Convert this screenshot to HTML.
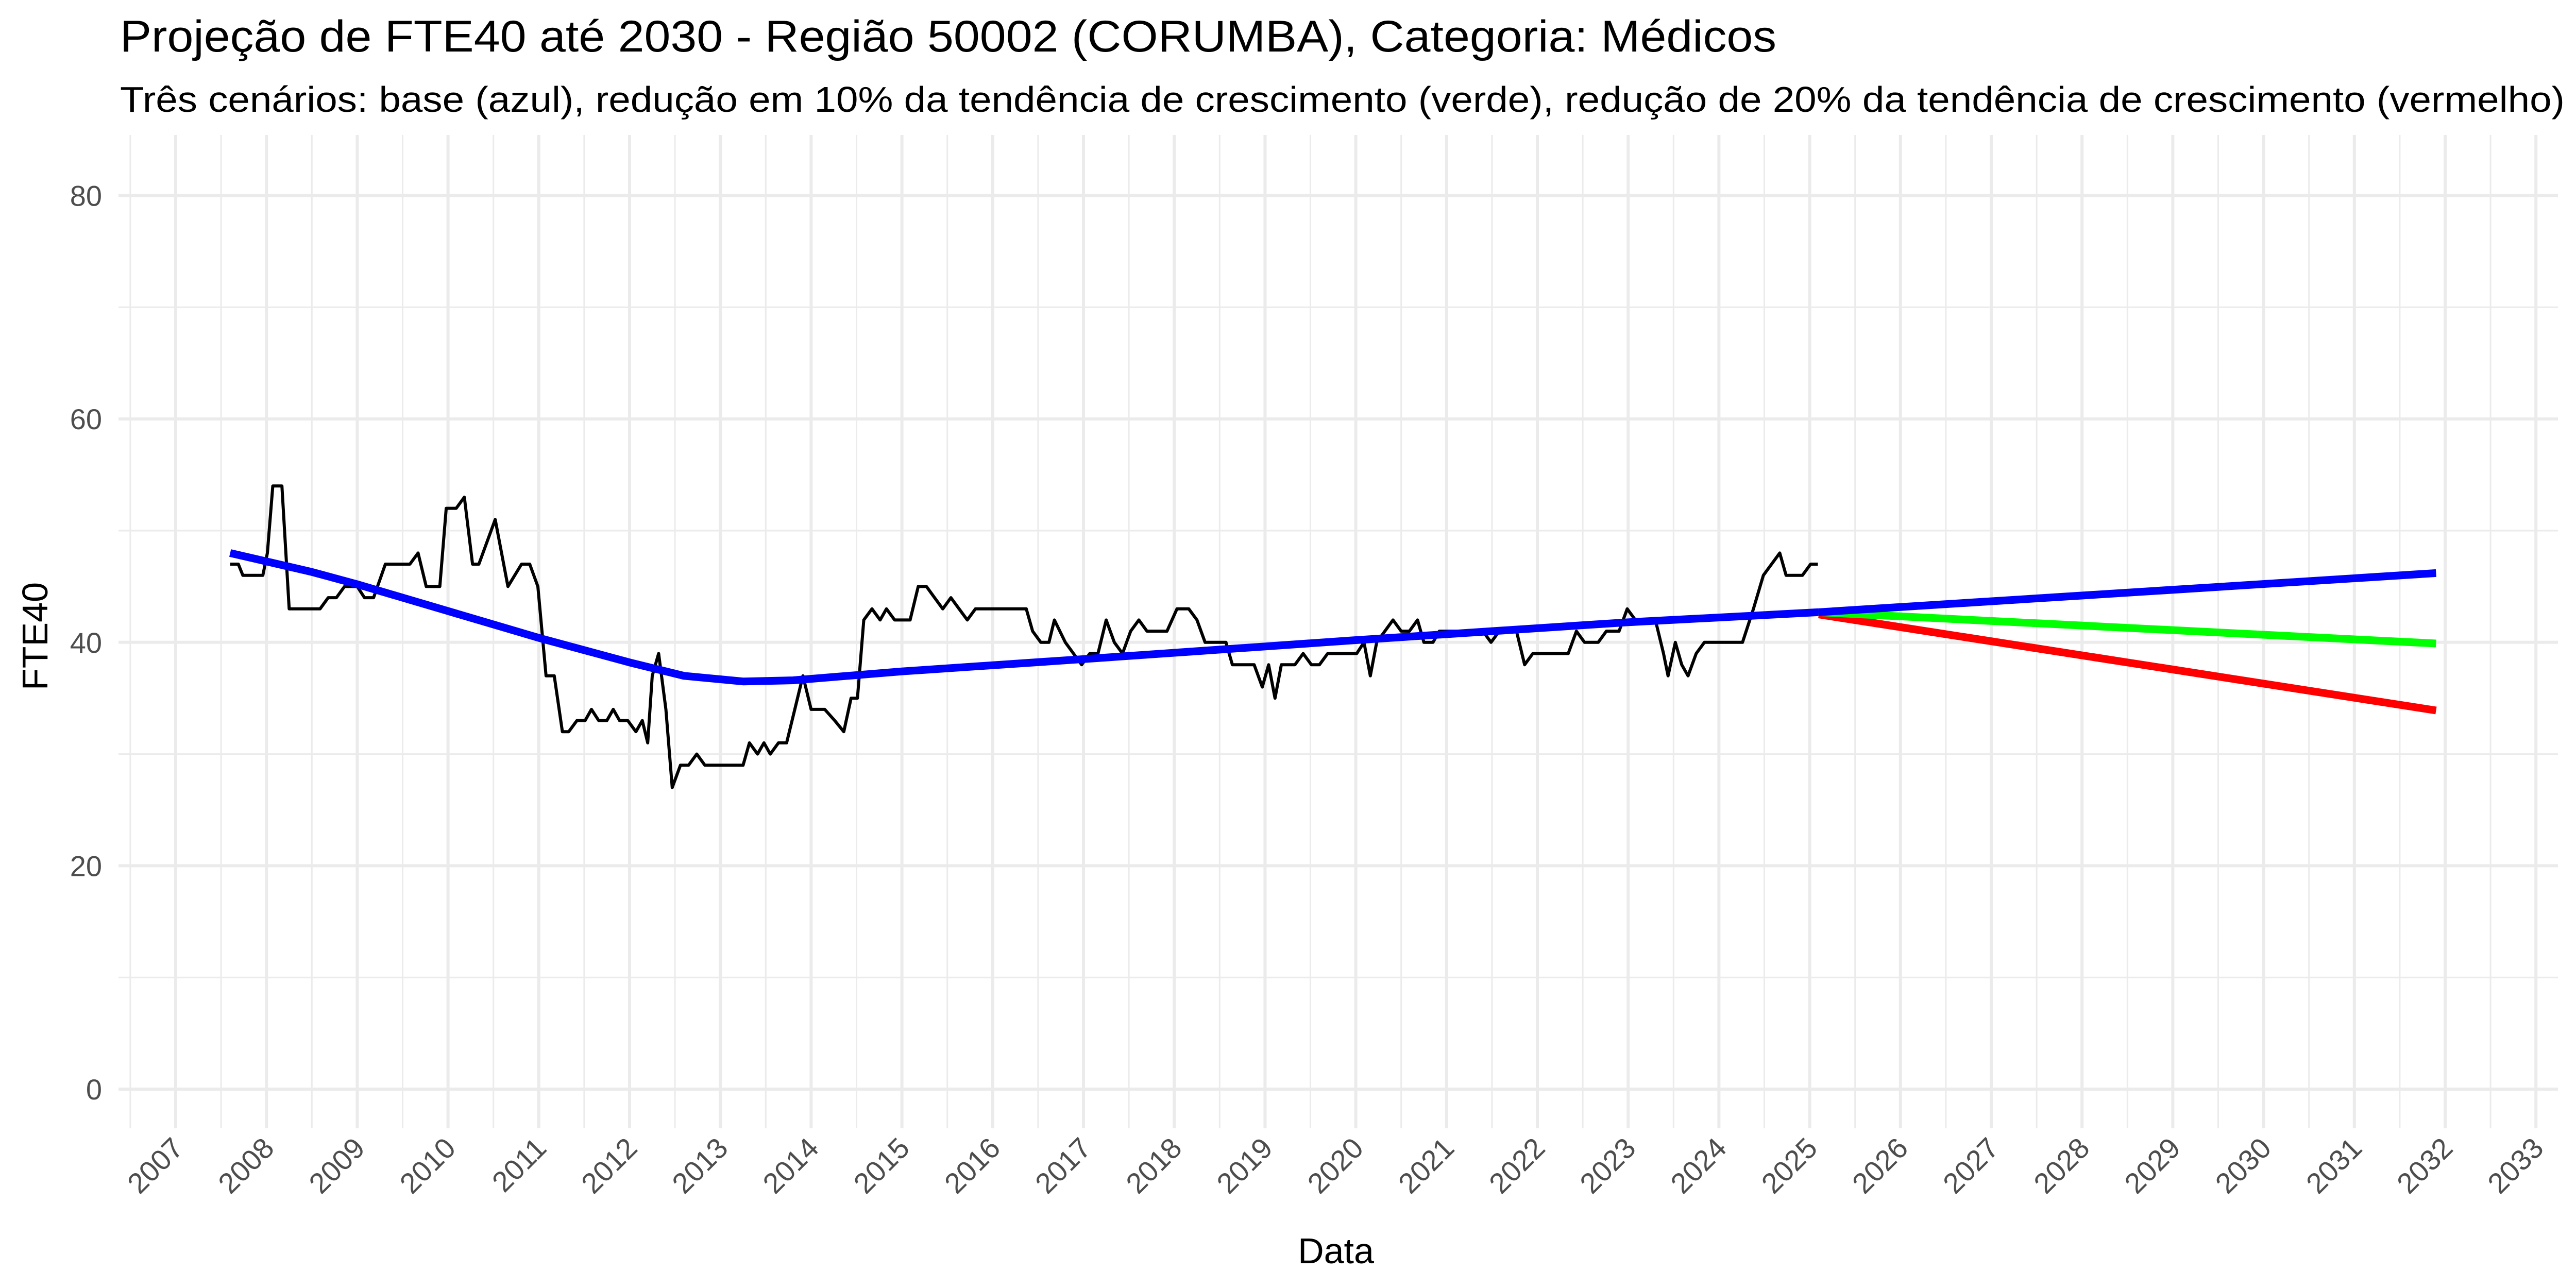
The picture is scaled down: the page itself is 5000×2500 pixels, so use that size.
<!DOCTYPE html>
<html><head><meta charset="utf-8"><style>
html,body{margin:0;padding:0;background:#fff;}
svg{display:block;font-family:"Liberation Sans",Arial,sans-serif;}
</style></head><body>
<svg id="chart" width="5000" height="2500" viewBox="0 0 5000 2500" xmlns="http://www.w3.org/2000/svg">
<rect width="5000" height="2500" fill="#fff"/>
<text x="233" y="100" font-size="86" fill="#000" textLength="3215" lengthAdjust="spacingAndGlyphs">Projeção de FTE40 até 2030 - Região 50002 (CORUMBA), Categoria: Médicos</text>
<text x="233" y="217" font-size="70" fill="#000" textLength="4745" lengthAdjust="spacingAndGlyphs">Três cenários: base (azul), redução em 10% da tendência de crescimento (verde), redução de 20% da tendência de crescimento (vermelho)</text>
<g id="grid"></g>
<g id="ticks"></g>
<g id="series"></g>
<text x="2593" y="2452" font-size="70" text-anchor="middle" fill="#000">Data</text>
<text x="0" y="0" font-size="70" text-anchor="middle" fill="#000" transform="translate(92,1235) rotate(-90)">FTE40</text>
</svg>
<script>
// ---- data ----
const obsDates = [2007.60,2007.69,2007.74,2007.96,2008.01,2008.07,2008.17,2008.25,2008.59,2008.68,2008.77,2008.86,2009.00,2009.08,2009.18,2009.31,2009.58,2009.67,2009.76,2009.91,2009.98,2010.09,2010.18,2010.27,2010.34,2010.52,2010.66,2010.81,2010.90,2010.99,2011.08,2011.17,2011.26,2011.33,2011.42,2011.51,2011.58,2011.66,2011.75,2011.82,2011.89,2011.98,2012.07,2012.14,2012.20,2012.25,2012.32,2012.40,2012.47,2012.56,2012.65,2012.74,2012.83,2013.25,2013.32,2013.41,2013.48,2013.55,2013.64,2013.73,2013.82,2013.91,2014.00,2014.15,2014.26,2014.36,2014.44,2014.51,2014.58,2014.67,2014.76,2014.83,2014.92,2015.09,2015.18,2015.27,2015.36,2015.45,2015.54,2015.63,2015.72,2015.81,2016.37,2016.44,2016.53,2016.62,2016.68,2016.80,2016.89,2016.98,2017.07,2017.16,2017.25,2017.34,2017.43,2017.52,2017.61,2017.70,2017.92,2018.03,2018.16,2018.25,2018.34,2018.57,2018.64,2018.88,2018.97,2019.04,2019.11,2019.18,2019.33,2019.42,2019.51,2019.60,2019.69,2020.01,2020.09,2020.16,2020.23,2020.32,2020.41,2020.50,2020.59,2020.68,2020.75,2020.85,2020.92,2021.40,2021.49,2021.58,2021.77,2021.86,2021.95,2022.34,2022.43,2022.52,2022.67,2022.76,2022.90,2022.99,2023.08,2023.30,2023.39,2023.44,2023.52,2023.59,2023.66,2023.75,2023.84,2024.26,2024.38,2024.49,2024.58,2024.67,2024.74,2024.92,2025.01,2025.09];
const obsValues = [47,47,46,46,48,54,54,43,43,44,44,45,45,44,44,47,47,48,45,45,52,52,53,47,47,51,45,47,47,45,37,37,32,32,33,33,34,33,33,34,33,33,32,33,31,37,39,34,27,29,29,30,29,29,31,30,31,30,31,31,34,37,34,34,33,32,35,35,42,43,42,43,42,42,45,45,44,43,44,43,42,43,43,41,40,40,42,40,39,38,39,39,42,40,39,41,42,41,41,43,43,42,40,40,38,38,36,38,35,38,38,39,38,38,39,39,40,37,40,41,42,41,41,42,40,40,41,41,40,41,41,38,39,39,41,40,40,41,41,43,42,42,39,37,40,38,37,39,40,40,43,46,47,48,46,46,47,47];
const trendDates = [2007.6,2008.5,2009.0,2010.0,2011.0,2012.0,2012.6,2013.25,2013.8,2015.0,2017.0,2020.0,2023.0,2025.1];
const trendValues = [48.0,46.3,45.2,42.8,40.4,38.2,37.0,36.5,36.6,37.4,38.5,40.2,41.8,42.7];
const projDates = [2025.1,2031.9];
const projBase = [42.7,46.2];
const projGreen = [42.7,39.9];
const projRed = [42.5,33.9];
const yTicks = [0,20,40,60,80];
const yMinor = [10,30,50,70];
const xTickYears = [2007,2008,2009,2010,2011,2012,2013,2014,2015,2016,2017,2018,2019,2020,2021,2022,2023,2024,2025,2026,2027,2028,2029,2030,2031,2032,2033];

// ---- scales ----
const X0 = 341, PXY = 176.2, Y0 = 2114, PXV = 21.68;
const PL = 230, PR = 4965, PT = 262, PB = 2190;
function xs(t){ return X0 + (t - 2007) * PXY; }
function ys(v){ return Y0 - v * PXV; }
const NS = "http://www.w3.org/2000/svg";
function mk(tag, attrs, parent){ const e = document.createElementNS(NS, tag); for (const k in attrs) e.setAttribute(k, attrs[k]); parent.appendChild(e); return e; }

const grid = document.getElementById('grid');
const ticks = document.getElementById('ticks');
const series = document.getElementById('series');

yMinor.forEach(v => {
  const l = mk('line', {x1:PL, x2:PR, y1:ys(v), y2:ys(v), stroke:'#ebebeb', 'stroke-width':3}, grid);
  
  
});
xTickYears.forEach(y => {
  if (y < 2033) {
    const l = mk('line', {x1:xs(y+0.5), x2:xs(y+0.5), y1:PT, y2:PB, stroke:'#ebebeb', 'stroke-width':3}, grid);
    
    
  }
});
const lm = mk('line', {x1:xs(2006.5), x2:xs(2006.5), y1:PT, y2:PB, stroke:'#ebebeb', 'stroke-width':3}, grid);


yTicks.forEach(v => {
  const l = mk('line', {x1:PL, x2:PR, y1:ys(v), y2:ys(v), stroke:'#ebebeb', 'stroke-width':6}, grid);
  
  
  const t = mk('text', {x:198, y:ys(v)+20, 'font-size':56, fill:'#4d4d4d', 'text-anchor':'end'}, ticks);
  t.textContent = v;
  
  
});
xTickYears.forEach(y => {
  const l = mk('line', {x1:xs(y), x2:xs(y), y1:PT, y2:PB, stroke:'#ebebeb', 'stroke-width':6}, grid);
  
  
  const t = mk('text', {x:0, y:0, 'font-size':56, fill:'#4d4d4d', 'text-anchor':'end', transform:'translate(' + (xs(y)+18) + ',2232) rotate(-45)'}, ticks);
  t.textContent = y;
  
  
});

function pts(d, v){ return d.map((t,i) => xs(t).toFixed(1) + ',' + ys(v[i]).toFixed(1)).join(' '); }
const obs = mk('polyline', {points:pts(obsDates, obsValues), fill:'none', stroke:'#000', 'stroke-width':6, 'stroke-linejoin':'round'}, series);


const tr = mk('polyline', {points:pts(trendDates, trendValues), fill:'none', stroke:'#0000ff', 'stroke-width':15, 'stroke-linejoin':'round'}, series);


const pr = mk('polyline', {points:pts(projDates, projRed), fill:'none', stroke:'#ff0000', 'stroke-width':15}, series);


const pg = mk('polyline', {points:pts(projDates, projGreen), fill:'none', stroke:'#00ff00', 'stroke-width':15}, series);


const pb = mk('polyline', {points:pts(projDates, projBase), fill:'none', stroke:'#0000ff', 'stroke-width':15}, series);


</script>
</body></html>
